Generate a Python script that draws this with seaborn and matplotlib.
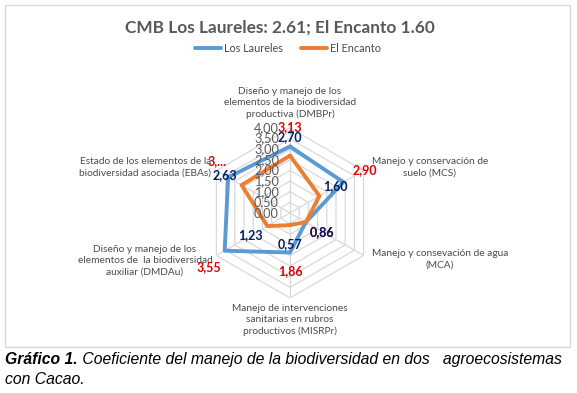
import numpy as np
import pandas as pd
import matplotlib
matplotlib.use("Agg")
import matplotlib.pyplot as plt
from matplotlib.lines import Line2D
from matplotlib.patches import Rectangle
import seaborn as sns

# ---------------- data ----------------
categories = [
    "Diseño y manejo de los\nelementos de la biodiversidad\nproductiva (DMBPr)",
    "Manejo y conservación de\nsuelo (MCS)",
    "Manejo y consevación de agua\n(MCA)",
    "Manejo de intervenciones\nsanitarias en rubros\nproductivos (MISRPr)",
    "Diseño y manejo de los\nelementos de  la biodiversidad\nauxiliar (DMDAu)",
    "Estado de los elementos de la\nbiodiversidad asociada (EBAs)",
]
los_laureles = [3.13, 2.90, 0.86, 1.86, 3.55, 3.36]
el_encanto = [2.70, 1.60, 0.86, 0.57, 1.23, 2.63]
series_names = ["Los Laureles", "El Encanto"]
radial_ticks = [0.0, 0.5, 1.0, 1.5, 2.0, 2.5, 3.0, 3.5, 4.0]
title = "CMB Los Laureles: 2.61; El Encanto 1.60"

# ---------------- style ----------------
sns.set_theme(style="white")
plt.rcParams["font.family"] = ["Lato", "DejaVu Sans"]

W, H = 577, 393
fig = plt.figure(figsize=(W / 100, H / 100), dpi=100)
fig.patch.set_facecolor("white")

# chart border
fig.add_artist(Rectangle((5 / W, 1 - 346.5 / H), 565 / W, 341.5 / H,
                         transform=fig.transFigure, fill=False,
                         edgecolor="#d9d9d9", lw=1.0))

cx, cy, R = 290, 213, 85
ax = fig.add_axes([(cx - R) / W, 1 - (cy + R) / H, 2 * R / W, 2 * R / H],
                  projection="polar")
ax.set_theta_zero_location("N")
ax.set_theta_direction(-1)
ax.set_ylim(0, 4)
ax.grid(False)
ax.spines["polar"].set_visible(False)
ax.set_xticks([])
ax.set_yticks([])
ax.patch.set_alpha(0)

n = len(categories)
theta = np.arange(n) * 2 * np.pi / n
theta_closed = np.append(theta, theta[0])

grid_c = "#d9d9d9"
for t in radial_ticks[1:]:
    ax.plot(theta_closed, [t] * (n + 1), color=grid_c, lw=0.9, zorder=1)
for th in theta:
    ax.plot([th, th], [0, radial_ticks[-1]], color=grid_c, lw=0.9, zorder=1)

# series via seaborn
rows = []
for name, vals in zip(series_names, [los_laureles, el_encanto]):
    vc = list(vals) + [vals[0]]
    for i, (th, v) in enumerate(zip(theta_closed, vc)):
        rows.append({"serie": name, "theta": th, "valor": v, "orden": i})
df = pd.DataFrame(rows)
palette = {"Los Laureles": "#5B9BD5", "El Encanto": "#ED7D31"}
sns.lineplot(data=df, x="theta", y="valor", hue="serie", units="serie",
             estimator=None, sort=False, palette=palette, lw=2.8,
             legend=False, ax=ax, zorder=3)
ax.set_xlabel("")
ax.set_ylabel("")
ax.set_ylim(0, 4)

# radial tick labels
for t in radial_ticks:
    ax.annotate(f"{t:.2f}".replace(".", ","), (0, t), xytext=(-11, 0),
                textcoords="offset pixels", ha="right", va="center",
                fontsize=9.2, color="#595959", zorder=4)

# data labels
def fmt(v):
    return f"{v:.2f}".replace(".", ",")

laureles_txt = [fmt(v) for v in los_laureles]
laureles_txt[5] = "3,..."
encanto_txt = [fmt(v) for v in el_encanto]
off = 19
laureles_nudge = {1: (5, 3), 4: (1, -7), 5: (5, 7)}
for txts, vals, col, nudge in [(laureles_txt, los_laureles, "#E00000", laureles_nudge),
                               (encanto_txt, el_encanto, "#002060", {})]:
    for i, (th, v, s) in enumerate(zip(theta, vals, txts)):
        nx, ny = nudge.get(i, (0, 0))
        ax.annotate(s, (th, v),
                    xytext=(off * np.sin(th) + nx, off * np.cos(th) + ny),
                    textcoords="offset pixels", ha="center", va="center",
                    fontsize=9, fontweight="bold", color=col, zorder=5)

# category labels
cat_pos = [((0, 9), "center", "bottom"),
           ((8, 3), "left", "center"),
           ((8, -4), "left", "center"),
           ((0, -6), "center", "top"),
           ((-4, -5), "right", "center"),
           ((-5, 3), "right", "center")]
for th, lab, (xy, ha, va) in zip(theta, categories, cat_pos):
    ax.annotate(lab, (th, 4.0), xytext=xy, textcoords="offset pixels",
                ha=ha, va=va, multialignment="center", fontsize=7.3,
                color="#4a4a4a", linespacing=1.3, annotation_clip=False)

# title
fig.text(280 / W, 1 - 28 / H, title, ha="center", va="center",
         fontsize=12.4, fontweight="bold", color="#595959")

# legend
handles = [Line2D([], [], color=palette[s], lw=2.8) for s in series_names]
fig.legend(handles, series_names, loc="center", bbox_to_anchor=(288 / W, 1 - 48 / H),
           ncol=2, frameon=False, fontsize=7.8, handlelength=2.4,
           handletextpad=0.3, columnspacing=1.6, labelcolor="#4a4a4a")

# caption
cap_font = ["Liberation Sans", "DejaVu Sans"]
cap_size = 11.3
t1 = fig.text(5 / W, 1 - 364 / H, "Gráfico 1.", ha="left", va="baseline",
              fontsize=cap_size, fontstyle="italic", fontweight="bold",
              family=cap_font, color="black")
fig.canvas.draw()
bb = t1.get_window_extent(renderer=fig.canvas.get_renderer())
fig.text(bb.x1 / W, 1 - 364 / H,
         " Coeficiente del manejo de la biodiversidad en dos   agroecosistemas",
         ha="left", va="baseline", fontsize=cap_size, fontstyle="italic",
         family=cap_font, color="black")
fig.text(5 / W, 1 - 384 / H, "con Cacao.", ha="left", va="baseline",
         fontsize=cap_size, fontstyle="italic", family=cap_font, color="black")

fig.savefig("out.png", dpi=100, facecolor="white")
